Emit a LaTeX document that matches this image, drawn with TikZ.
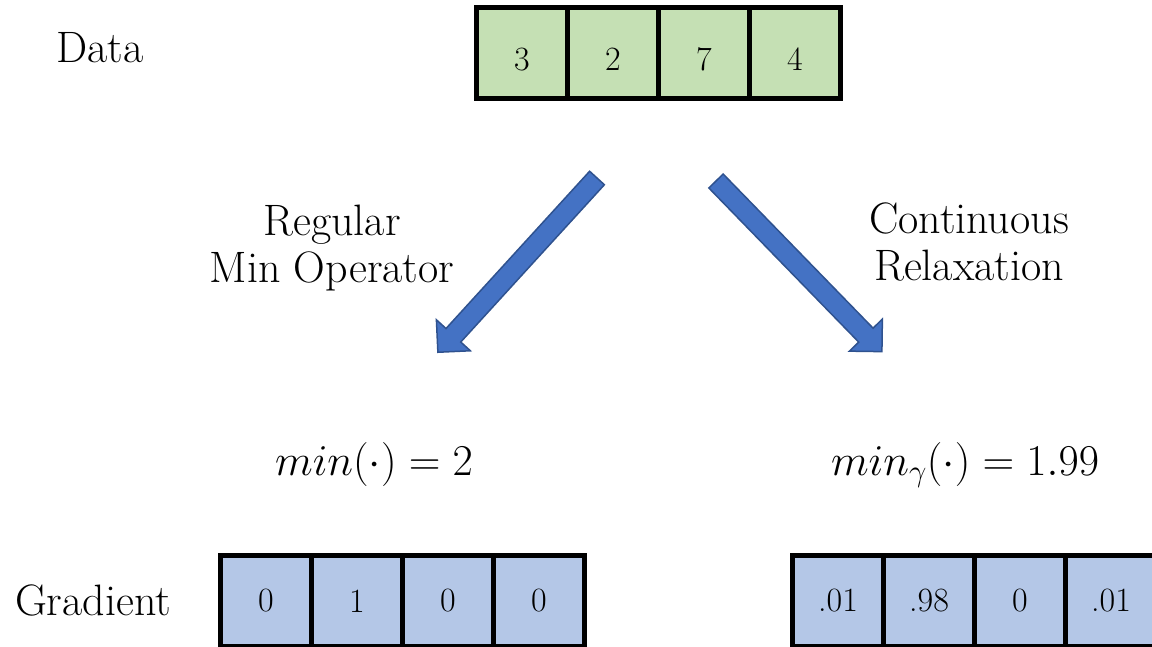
\documentclass[tikz,border=0pt]{standalone}
\usepackage{fix-cm}
\usetikzlibrary{positioning}
\definecolor{datagreen}{HTML}{C5E0B4}
\definecolor{gradblue}{HTML}{B4C7E7}
\definecolor{arrowblue}{HTML}{4472C4}
\definecolor{arrowedge}{HTML}{2F528F}
\begin{document}
\begin{tikzpicture}[x=1pt,y=1pt,
  cell/.style={draw=black,line width=5pt,minimum width=91pt,minimum height=91pt,
    inner sep=0pt,font=\fontsize{34}{40}\selectfont},
  txt/.style={font=\fontsize{44}{47}\selectfont,align=center,inner sep=0pt},
  bigarrow/.style={fill=arrowblue,draw=arrowedge,line width=1.5pt}]
  \useasboundingbox (0,0) rectangle (1152,646);
  \clip (0,0) rectangle (1152,646);
  % data row
  \node[txt,anchor=base] (data) at (100,583) {Data};
  \foreach \v [count=\i] in {3,2,7,4}
    \node[cell,fill=datagreen,text height=34pt,text depth=0pt] (d\i) at (431+91*\i,592.5) {\v};
  % the two ways down
  \begin{scope}[shift={(597,468)},rotate=227.6]
    \filldraw[bigarrow] (0,10) -- (213,10) -- (213,23) -- (236,0) -- (213,-23) -- (213,-10) -- (0,-10) -- cycle;
  \end{scope}
  \begin{scope}[shift={(716,465)},rotate=-45.8]
    \filldraw[bigarrow] (0,10) -- (215,10) -- (215,23) -- (238,0) -- (215,-23) -- (215,-10) -- (0,-10) -- cycle;
  \end{scope}
  \node[txt] (regular) at (332,398) {Regular\\Min Operator};
  \node[txt] (relax) at (969,404) {Continuous\\Relaxation};
  % results
  \node[txt,anchor=base] (minhard) at (374,171) {$min(\cdot) = 2$};
  \node[txt,anchor=base] (minsoft) at (965,171) {$min_{\gamma}(\cdot) = 1.99$};
  % gradients
  \node[txt,anchor=base] (gradient) at (93,31) {Gradient};
  \foreach \v [count=\i] in {0,1,0,0}
    \node[cell,fill=gradblue] (g\i) at (175+91*\i,45) {\v};
  \foreach \v [count=\i] in {.01,.98,0,.01}
    \node[cell,fill=gradblue] (s\i) at (747+91*\i,45) {\v};
\end{tikzpicture}
\end{document}
